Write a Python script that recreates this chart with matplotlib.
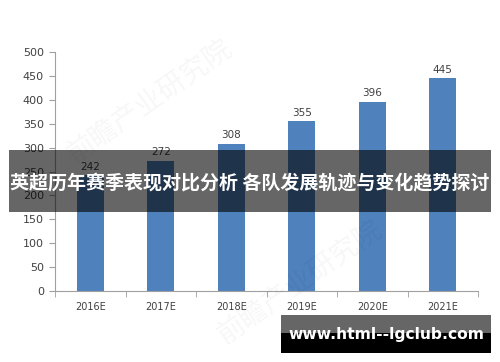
import matplotlib.pyplot as plt
import matplotlib.patches as mpatches

plt.rcParams['font.family'] = ['Noto Sans CJK SC', 'DejaVu Sans']

# 数据
years = ['2016E', '2017E', '2018E', '2019E', '2020E', '2021E']
values = [242, 272, 308, 355, 396, 445]
y_ticks = [0, 50, 100, 150, 200, 250, 300, 350, 400, 450, 500]
title = '英超历年赛季表现对比分析 各队发展轨迹与变化趋势探讨'
site = 'www.html--lgclub.com'

fig = plt.figure(figsize=(5, 3.62), dpi=100)
ax = fig.add_axes([0.11, 0.196, 0.846, 0.66])

x = range(len(years))
bars = ax.bar(x, values, width=0.39, color='#4f81bd', zorder=2)
for xi, v in zip(x, values):
    ax.text(xi, v + 8, str(v), ha='center', va='bottom', fontsize=7.5,
            color='#404040', family='DejaVu Sans')

ax.set_xlim(-0.5, len(years) - 0.5)
ax.set_ylim(0, 500)
ax.set_yticks(y_ticks)
ax.set_yticklabels([str(t) for t in y_ticks], fontsize=8, color='#404040',
                   family='DejaVu Sans')
ax.set_xticks(list(x))
ax.set_xticklabels(years, fontsize=7, color='#404040', family='DejaVu Sans')
ax.set_xticks([i - 0.5 for i in range(len(years) + 1)], minor=True)
ax.tick_params(axis='x', which='major', length=0, pad=8)
ax.tick_params(axis='x', which='minor', length=4, color='#a0a0a0')
ax.tick_params(axis='y', length=4, color='#a0a0a0', pad=4)
for s in ['top', 'right']:
    ax.spines[s].set_visible(False)
for s in ['left', 'bottom']:
    ax.spines[s].set_color('#a0a0a0')
    ax.spines[s].set_linewidth(0.8)

# 水印
for wx, wy in [(0.3, 0.72), (0.6, 0.22)]:
    fig.text(wx, wy, '前瞻产业研究院', fontsize=20, color='#000000', alpha=0.035,
             rotation=35, ha='center', va='center')

# 标题横幅
fig.patches.append(mpatches.Rectangle((9 / 500, 1 - 212 / 362), 482 / 500, 62 / 362,
                                      transform=fig.transFigure, facecolor='black',
                                      linewidth=0, alpha=0.6, zorder=5))
fig.text(0.5, 1 - 183 / 362, title, fontsize=13.7, color='white', weight='bold',
         ha='center', va='center', zorder=6)

# 网址横幅
fig.patches.append(mpatches.Rectangle((281 / 500, 1 - 333 / 362), 210 / 500, 18 / 362,
                                      transform=fig.transFigure, facecolor='#666666',
                                      linewidth=0, zorder=5))
fig.patches.append(mpatches.Rectangle((281 / 500, 1 - 353 / 362), 210 / 500, 20 / 362,
                                      transform=fig.transFigure, facecolor='black',
                                      linewidth=0, zorder=5))
fig.text(386 / 500, 1 - 334 / 362, site, fontsize=11.2, color='white', weight='bold',
         ha='center', va='center', family='DejaVu Sans', zorder=6)

fig.savefig('out.png', dpi=100)
